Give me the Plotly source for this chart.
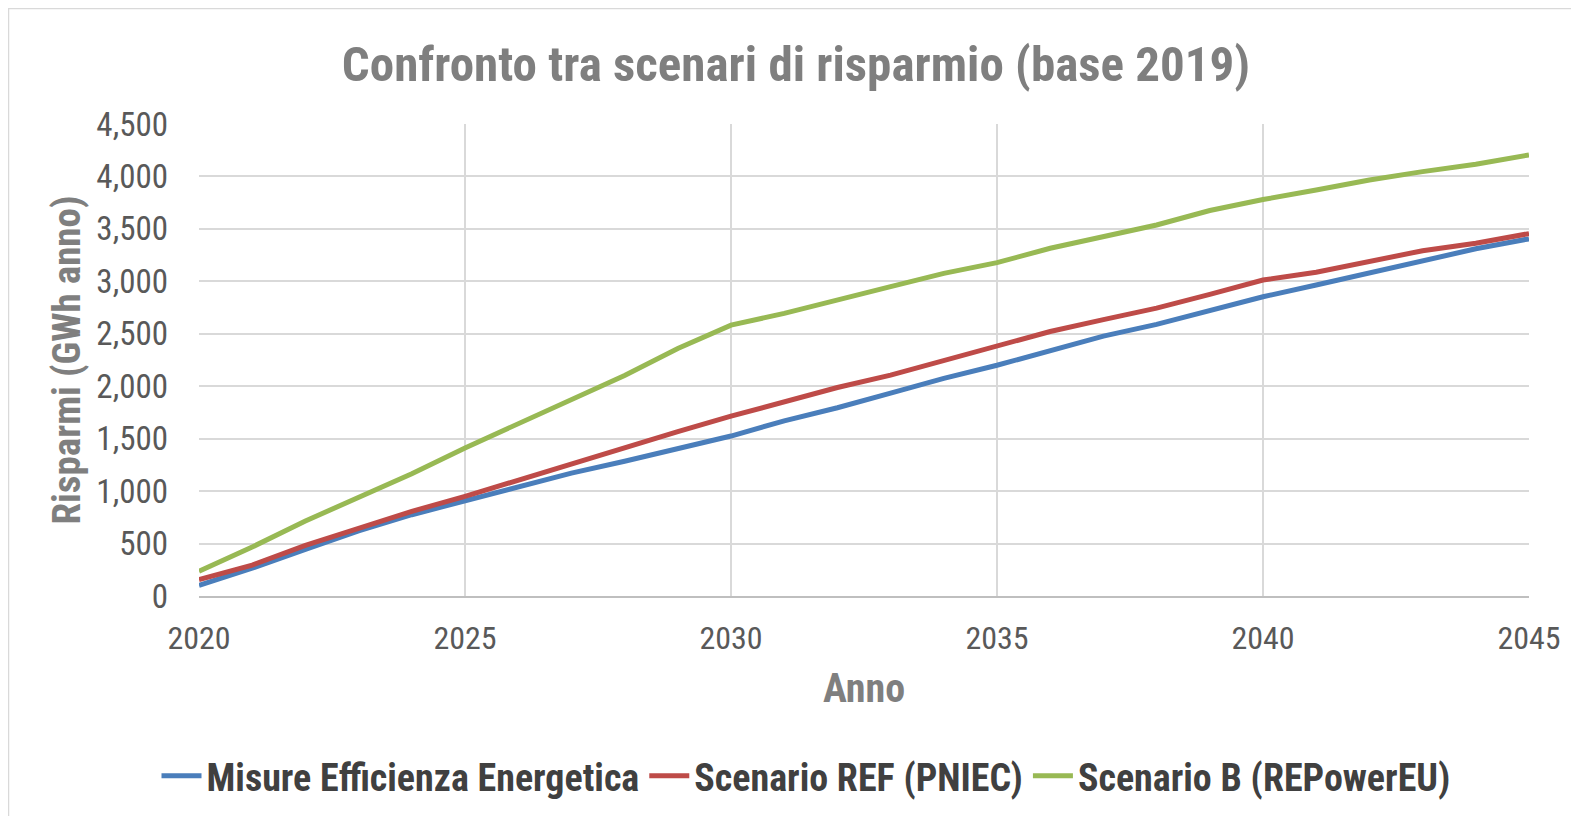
import plotly.graph_objects as go

years = list(range(2020, 2046))
misure_efficienza = [102, 265, 445, 620, 775, 905, 1045, 1172, 1285, 1410, 1525,
                     1670, 1795, 1935, 2075, 2200, 2345, 2478, 2590, 2717, 2853,
                     2965, 3082, 3205, 3310, 3405]
scenario_ref = [156, 295, 483, 651, 807, 950, 1105, 1262, 1412, 1567, 1714,
                1845, 1988, 2106, 2243, 2376, 2522, 2635, 2745, 2875, 3012,
                3086, 3187, 3292, 3363, 3455]
scenario_b = [235, 467, 715, 943, 1166, 1412, 1642, 1880, 2103, 2360, 2582,
              2695, 2828, 2949, 3076, 3178, 3315, 3426, 3537, 3675, 3780,
              3870, 3966, 4046, 4116, 4205]

series_names = ["Misure Efficienza Energetica", "Scenario REF (PNIEC)", "Scenario B (REPowerEU)"]
series_values = [misure_efficienza, scenario_ref, scenario_b]
series_colors = ["#4A7EBB", "#BE4B48", "#98B954"]

title_text = "Confronto tra scenari di risparmio (base 2019)"
x_title = "Anno"
y_title = "Risparmi (GWh anno)"
x_ticks = [2020, 2025, 2030, 2035, 2040, 2045]
y_ticks = list(range(0, 4501, 500))

# page body has an 8px margin, so figure coords = screen coords - 8
OFF = 8
W, H = 1579, 816
L = 199 - OFF
T = 124 - OFF
R = W - (1529 - OFF)
B = H - (596 - OFF)
FONT = "Liberation Sans Narrow, Roboto Condensed, Open Sans, Arial"

fig = go.Figure()
for name, vals, col in zip(series_names, series_values, series_colors):
    fig.add_trace(go.Scatter(x=years, y=vals, name="<b>" + name + "</b>", mode="lines",
                             line=dict(color=col, width=5)))

pw = W - L - R
ph = H - T - B
def px2paper_x(px):
    return (px - L) / pw
def px2paper_y(py):
    return (H - B - py) / ph

fig.update_layout(
    width=W, height=H,
    margin=dict(l=L, r=R, t=T, b=B, autoexpand=False),
    paper_bgcolor="white", plot_bgcolor="white",
    font=dict(family=FONT, color="#595959", size=32),
    title=dict(text="<b>" + title_text + "</b>", x=(796 - OFF) / W, xref="container",
               y=1 - (64 - OFF) / H, yref="container", xanchor="center", yanchor="middle",
               font=dict(size=49, color="#7F7F7F", family=FONT)),
    xaxis=dict(range=[2020, 2045], tickvals=x_ticks, showgrid=True,
               gridcolor="#D9D9D9", gridwidth=1.5, zeroline=False,
               showline=True, linecolor="#BFBFBF", linewidth=1.5,
               ticks="", ticklabelstandoff=13, tickangle=0, automargin=False,
               tickfont=dict(size=32, color="#595959"),
               title=dict(text="<b>" + x_title + "</b>", standoff=18,
                          font=dict(size=40, color="#7F7F7F"))),
    yaxis=dict(range=[0, 4500], tickvals=y_ticks, tickformat=",",
               showgrid=True, gridcolor="#D9D9D9", gridwidth=1.5, zeroline=False,
               showline=False, ticks="", ticklabelstandoff=30, automargin=False,
               tickfont=dict(size=33, color="#595959"),
               title=dict(text="<b>" + y_title + "</b>", standoff=3,
                          font=dict(size=39, color="#7F7F7F"))),
    legend=dict(orientation="h", x=(806 - OFF) / W, xanchor="center", xref="container",
                y=1 - (776 - OFF) / H, yref="container", yanchor="middle",
                font=dict(size=38, color="#404040", family=FONT),
                itemwidth=40, traceorder="normal"),
    showlegend=True,
)

fig.add_shape(type="rect", xref="paper", yref="paper",
              x0=px2paper_x(0.5), x1=px2paper_x(W - 1), y0=px2paper_y(H - 1), y1=px2paper_y(0.5),
              line=dict(color="#D9D9D9", width=1.5), fillcolor="rgba(0,0,0,0)", layer="below")

fig.write_html("out.html")
